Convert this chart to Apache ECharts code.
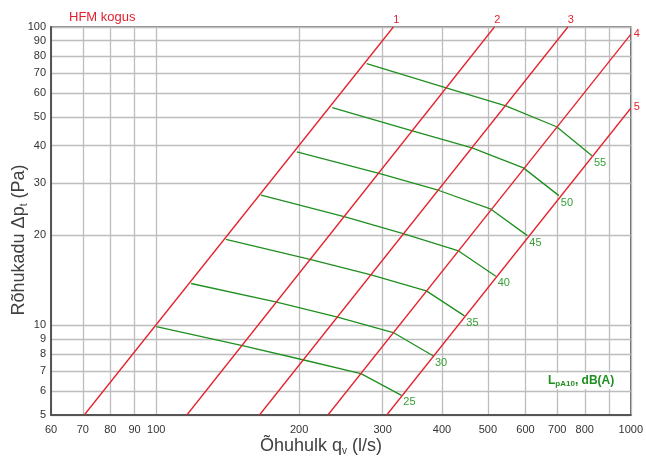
<!DOCTYPE html>
<html><head><meta charset="utf-8">
<script src="https://cdn.jsdelivr.net/npm/echarts@6/dist/echarts.min.js"></script>
<style>html,body{margin:0;padding:0;background:#fff}#c{width:646px;height:458px}</style>
</head><body><div id="c"></div>
<script>
// Axis ticks / labels
const xGridValues = [60, 70, 80, 90, 100, 200, 300, 400, 500, 600, 700, 800, 900, 1000];
const xLabelValues = [60, 70, 80, 90, 100, 200, 300, 400, 500, 600, 700, 800, 1000];
const yGridValues = [5, 6, 7, 8, 9, 10, 20, 30, 40, 50, 60, 70, 80, 90, 100];
const yLabelValues = [5, 6, 7, 8, 9, 10, 20, 30, 40, 50, 60, 70, 80, 90, 100];

// Red system curves (q l/s, dp Pa) endpoints
const systemNames = ['1', '2', '3', '4', '5'];
const system1 = [[70.5, 5], [316, 100]];
const system2 = [[116, 5], [516, 100]];
const system3 = [[165, 5], [737, 100]];
const system4 = [[230, 5], [1000, 94.5]];
const system5 = [[306, 5], [1000, 53.4]];
const systemLabelOffsets = [[3, -7], [3, -7], [3, -7], [6, 0], [6, -1]];

// Green noise curves LpA10 dB(A)
const noiseNames = ['25', '30', '35', '40', '45', '50', '55'];
const noise25 = [[100, 9.9], [151.9, 8.55], [203.6, 7.66], [270, 6.88], [328.7, 5.82]];
const noise30 = [[118.4, 13.8], [179.4, 11.95], [241, 10.65], [315.8, 9.45], [383, 7.9]];
const noise35 = [[140.2, 19.4], [211.9, 16.6], [283.6, 14.75], [370.8, 13.04], [446.2, 10.75]];
const noise40 = [[166.3, 27.3], [250, 23.1], [331.4, 20.3], [432, 17.8], [519.6, 14.6]];
const noise45 = [[197.8, 38.1], [294.7, 32.3], [394.3, 28.3], [507.4, 24.5], [605.5, 19.97]];
const noise50 = [[234.9, 53.7], [346.5, 44.8], [462.9, 39.35], [594, 33.7], [705.6, 27.2]];
const noise55 = [[277.6, 75.4], [408.3, 62.5], [545.4, 54.4], [697.7, 46.3], [828.6, 37.0]];

const FONT = 'Liberation Sans, Arial, Helvetica, sans-serif';
const RED = '#e4222e';
const GREEN = '#1f8f1f';
const GREEN_TXT = '#35a035';

function withEndLabel(pts, text, color, offset) {
  return pts.map((p, i) => i === pts.length - 1 ? {
    value: p,
    label: { show: true, formatter: text, position: 'inside', offset: offset,
      color: color, fontSize: 11, fontFamily: FONT }
  } : p);
}

const systems = [system1, system2, system3, system4, system5];
const noises = [noise25, noise30, noise35, noise40, noise45, noise50, noise55];

const series = [];
systems.forEach((s, i) => series.push({
  type: 'line', name: 'sys' + systemNames[i], data: withEndLabel(s, systemNames[i], RED, systemLabelOffsets[i]),
  symbol: 'circle', symbolSize: 0, lineStyle: { color: RED, width: 1.3 }, itemStyle: { color: RED },
  silent: true, z: 3
}));
noises.forEach((s, i) => series.push({
  type: 'line', name: 'n' + noiseNames[i], data: withEndLabel(s, noiseNames[i], GREEN_TXT, [8, 7]),
  symbol: 'circle', symbolSize: 0, lineStyle: { color: GREEN, width: 1.3 }, itemStyle: { color: GREEN },
  silent: true, z: 2
}));

const plainNum = v => String(Math.round(v));

const chart = echarts.init(document.getElementById('c'), null, { renderer: 'canvas' });
chart.setOption({
  animation: false,
  backgroundColor: '#fff',
  grid: { left: 51, right: 12, top: 27, bottom: 43, show: true, borderColor: '#666', borderWidth: 1.5, containLabel: false },
  xAxis: {
    type: 'log', logBase: 10, min: 60, max: 1000,
    axisLine: { show: true, lineStyle: { color: '#555', width: 2 } },
    axisTick: { show: false, customValues: xGridValues },
    axisLabel: { customValues: xLabelValues, formatter: plainNum, margin: 9, fontSize: 11, color: '#333', fontFamily: FONT },
    splitLine: { show: true, lineStyle: { color: '#bdbdbd', width: 1.3 } },
    minorTick: { show: false }
  },
  yAxis: {
    type: 'log', logBase: 10, min: 5, max: 100,
    axisLine: { show: true, lineStyle: { color: '#555', width: 2 } },
    axisTick: { show: false, customValues: yGridValues },
    axisLabel: { customValues: yLabelValues, formatter: plainNum, margin: 5, fontSize: 11, color: '#333', fontFamily: FONT },
    splitLine: { show: true, lineStyle: { color: '#bdbdbd', width: 1.3 } }
  },
  graphic: [
    { type: 'text', x: 69, y: 17, style: { text: 'HFM kogus', fill: RED, font: '13px ' + FONT, verticalAlign: 'middle' } },
    { type: 'text', x: 19, y: 240, rotation: Math.PI / 2,
      style: { text: '{m|Rõhukadu Δp}{s|t}{m| (Pa)}', align: 'center', verticalAlign: 'middle',
        rich: { m: { fontSize: 18, fontFamily: FONT, fill: '#404040', lineHeight: 20 },
                s: { fontSize: 10, fontFamily: FONT, fill: '#404040', lineHeight: 10, verticalAlign: 'bottom' } } } },
    { type: 'text', x: 321, y: 446,
      style: { text: '{m|Õhuhulk q}{s|v}{m| (l/s)}', align: 'center', verticalAlign: 'middle',
        rich: { m: { fontSize: 18, fontFamily: FONT, fill: '#404040', lineHeight: 20 },
                s: { fontSize: 10, fontFamily: FONT, fill: '#404040', lineHeight: 10, verticalAlign: 'bottom' } } } },
    { type: 'text', x: 546, y: 381, z: 10,
      style: { text: '{m|L}{s|pA10}{m|, dB(A)}', align: 'left', verticalAlign: 'middle',
        backgroundColor: '#fff', padding: [1, 2, 1, 2],
        rich: { m: { fontSize: 12, fontWeight: 'bold', fontFamily: FONT, fill: GREEN, lineHeight: 14 },
                s: { fontSize: 8, fontWeight: 'bold', fontFamily: FONT, fill: GREEN, lineHeight: 8, verticalAlign: 'bottom' } } } }
  ],
  series: series
});
</script></body></html>
